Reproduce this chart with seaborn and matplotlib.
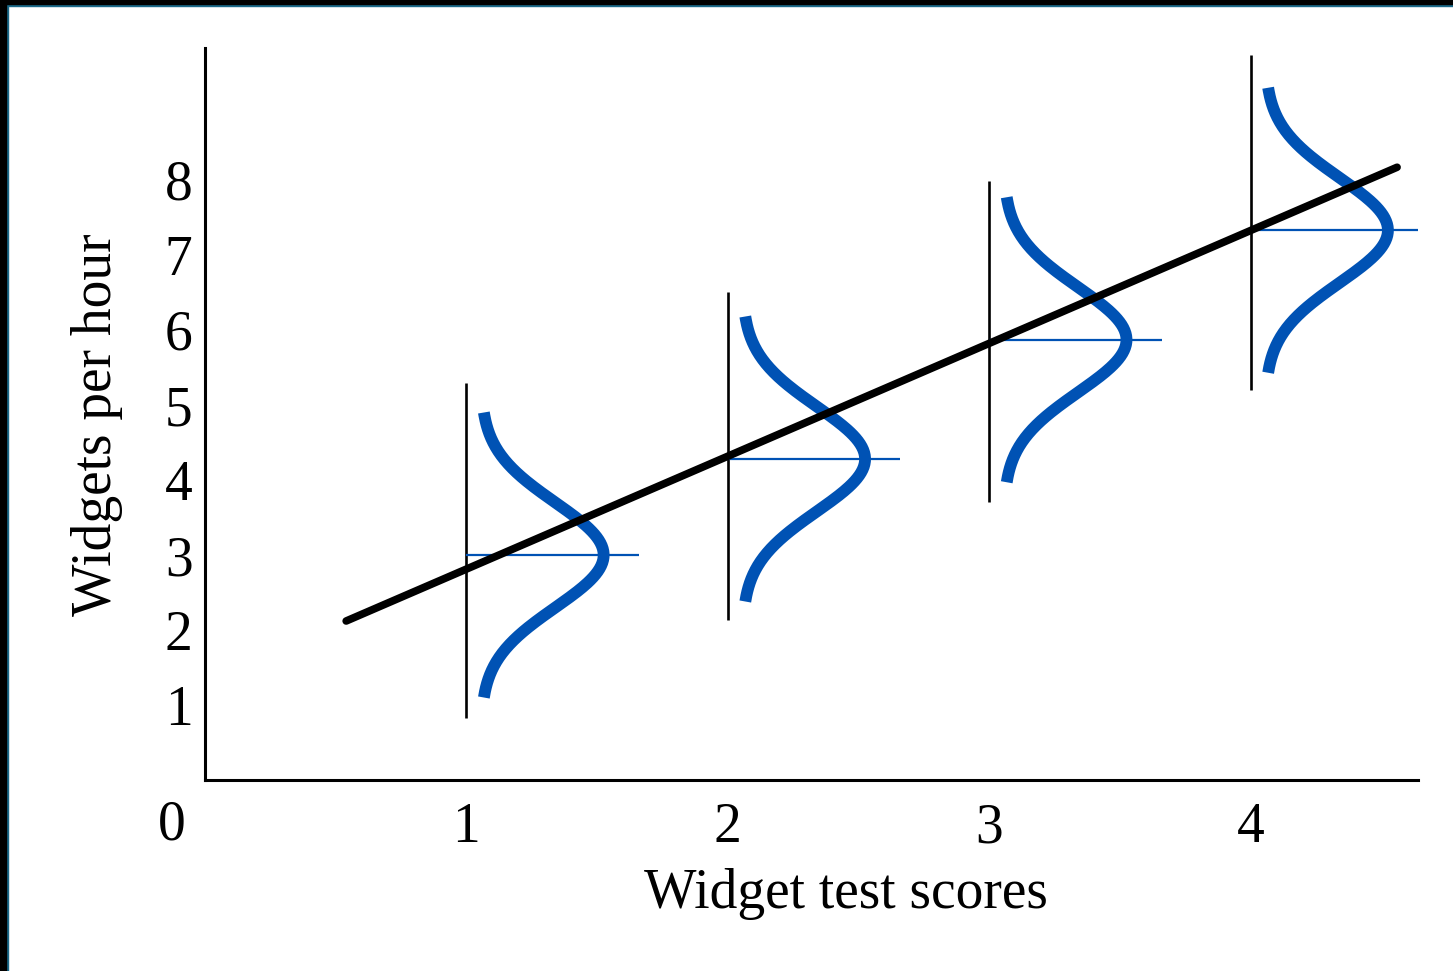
import numpy as np
import pandas as pd
import matplotlib
matplotlib.use("Agg")
import matplotlib.pyplot as plt
from matplotlib.patches import Rectangle
import seaborn as sns

# Test scores and the mean widgets/hour observed at each score
scores = [1, 2, 3, 4]
mean_output = [3.0, 4.28, 5.87, 7.33]

# Spread of each conditional distribution (vertical guide lines)
guide_low = [0.83, 2.13, 3.71, 5.20]
guide_high = [5.29, 6.51, 7.99, 9.67]

# Regression line end points
reg_x = [0.54, 4.56]
reg_y = [2.12, 8.17]

x_ticks = [1, 2, 3, 4]
y_ticks = [1, 2, 3, 4, 5, 6, 7, 8]

# Shape of the sideways normal curves (in x-axis units)
curve_sd = 0.70
curve_half_span = 1.9
curve_offset = 0.055
curve_height = 0.47
mean_bar_len = 0.66

BLUE = "#0052B4"
BLACK = "#000000"

sns.set_theme(style="white")
plt.rcParams["font.family"] = ["Liberation Serif", "DejaVu Serif"]

fig = plt.figure(figsize=(14.53, 9.71), dpi=100)
ax = fig.add_axes([205 / 1453, 1 - 780 / 971, (1418 - 205) / 1453, (780 - 48) / 971])

# Build the density curves as one long table
rows = []
for s, m in zip(scores, mean_output):
    yy = np.linspace(m - curve_half_span, m + curve_half_span, 200)
    xx = s + curve_offset + curve_height * np.exp(-((yy - m) ** 2) / (2 * curve_sd ** 2))
    for a, b in zip(xx, yy):
        rows.append({"score": s, "x": a, "y": b})
curves = pd.DataFrame(rows)

# Vertical guides at each score
ax.vlines(scores, guide_low, guide_high, color=BLACK, lw=1.9, zorder=1)

# Mean markers
ax.hlines(mean_output, scores, [s + mean_bar_len for s in scores], color=BLUE, lw=1.6, zorder=2)

sns.lineplot(data=curves, x="x", y="y", units="score", estimator=None, sort=False,
             color=BLUE, lw=8.5, ax=ax, legend=False, zorder=3)
for line in ax.get_lines():
    line.set_solid_capstyle("butt")

reg = pd.DataFrame({"x": reg_x, "y": reg_y})
sns.lineplot(data=reg, x="x", y="y", color=BLACK, lw=5.5, ax=ax, zorder=4)

ax.set_xlim(0, 4.64)
ax.set_ylim(0, 9.76)
ax.set_xticks(x_ticks)
ax.set_yticks(y_ticks)
ax.set_xticklabels([str(v) for v in x_ticks])
ax.set_yticklabels([str(v) for v in y_ticks])

for side in ("top", "right"):
    ax.spines[side].set_visible(False)
for side in ("left", "bottom"):
    ax.spines[side].set_color(BLACK)
    ax.spines[side].set_linewidth(2.2)

ax.tick_params(axis="both", direction="in", length=19, width=2.0, color=BLACK,
               labelsize=40, labelcolor=BLACK)
ax.tick_params(axis="x", pad=16)
ax.tick_params(axis="y", pad=9)

# Shared origin label
ax.annotate("0", xy=(0, 0), xytext=(-33, -45), textcoords="offset pixels",
            ha="center", va="center", fontsize=40, color=BLACK, annotation_clip=False)

ax.set_xlabel("Widget test scores", fontsize=40, color=BLACK)
ax.xaxis.set_label_coords(0.528, -0.12)
ax.xaxis.label.set_va("top")
ax.set_ylabel("Widgets per hour", fontsize=40, color=BLACK)
ax.yaxis.set_label_coords(-0.068, 0.485)

# Dark frame on the left and top edges
fig.add_artist(Rectangle((0, 0), 8 / 1453, 1, transform=fig.transFigure, color="#1B6A8A", zorder=10))
fig.add_artist(Rectangle((0, 1 - 6 / 971), 1, 6 / 971, transform=fig.transFigure, color="#1B6A8A", zorder=10))
fig.add_artist(Rectangle((0, 0), 6 / 1453, 1, transform=fig.transFigure, color="#000000", zorder=11))
fig.add_artist(Rectangle((0, 1 - 4 / 971), 1, 4 / 971, transform=fig.transFigure, color="#000000", zorder=11))

fig.savefig("out.png", dpi=100)
